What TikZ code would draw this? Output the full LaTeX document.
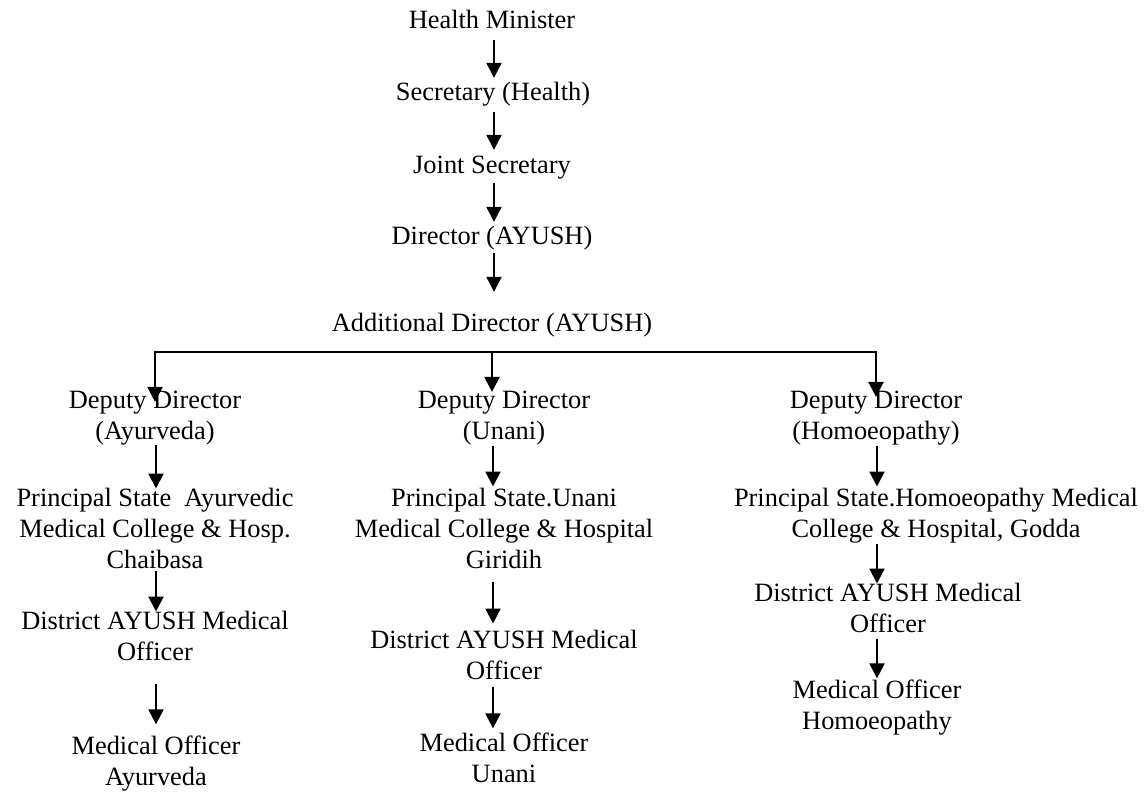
\documentclass[tikz,border=0pt]{standalone}
\usepackage{fontspec}
\setmainfont{Liberation Serif}
\usetikzlibrary{arrows.meta}
\begin{document}
\begin{tikzpicture}[x=1pt,y=-1pt,
  lbl/.style={align=center, inner sep=0pt, font=\fontsize{26.4}{31}\selectfont,
    execute at begin node=\strut, execute at end node=\strut},
  arr/.style={line width=2.2pt, -{Triangle[length=15pt,width=15pt]}},
  bus/.style={line width=2.2pt, line cap=rect}]
\useasboundingbox (0,0) rectangle (1146,796);
\fill[white] (0,0) rectangle (1146,796);

% top spine
\node[lbl] (hm)  at (492,21.8)  {Health Minister};
\node[lbl] (sec) at (493,93.8)  {Secretary (Health)};
\node[lbl] (js)  at (492,166.8) {Joint Secretary};
\node[lbl] (dir) at (492,237.8) {Director (AYUSH)};
\node[lbl] (ad)  at (492,324.8) {Additional Director (AYUSH)};

% deputy directors
\node[lbl] (add) at (155,420.3) {Deputy Director\\(Ayurveda)};
\node[lbl] (udd) at (504,420.3) {Deputy Director\\(Unani)};
\node[lbl] (hdd) at (876,420.3) {Deputy Director\\(Homoeopathy)};

% principals
\node[lbl] (ap) at (155,532.8) {Principal State\ \ Ayurvedic\\Medical College \& Hosp.\\Chaibasa};
\node[lbl] (up) at (504,532.8) {Principal State.Unani\\Medical College \& Hospital\\Giridih};
\node[lbl] (hp) at (936,517.3) {Principal State.Homoeopathy Medical\\College \& Hospital, Godda};

% district officers
\node[lbl] (adm) at (155,640.3) {District AYUSH Medical\\Officer};
\node[lbl] (udm) at (504,659.3) {District AYUSH Medical\\Officer};
\node[lbl] (hdm) at (888,612.3) {District AYUSH Medical\\Officer};

% medical officers
\node[lbl] (amo) at (156,765.3) {Medical Officer\\Ayurveda};
\node[lbl] (umo) at (504,762.3) {Medical Officer\\Unani};
\node[lbl] (hmo) at (877,709.3) {Medical Officer\\Homoeopathy};

% column references
\coordinate (colT) at (494,0);
\coordinate (colA) at (156,0);
\coordinate (colU) at (493,0);
\coordinate (colH) at (877,0);
\coordinate (busL) at (155,352);
\coordinate (busM) at (492,352);
\coordinate (busR) at (876,352);

% top arrows
\draw[arr, shorten <=2.7pt, shorten >=0.3pt] (hm.south -| colT) -- (sec.north -| colT);
\draw[arr, shorten <=2.7pt, shorten >=1.3pt] (sec.south -| colT) -- (js.north -| colT);
\draw[arr, shorten <=0.7pt, shorten >=0.3pt] (js.south -| colT) -- (dir.north -| colT);
\draw[arr, shorten <=-0.3pt, shorten >=17.3pt] (dir.south -| colT) -- (ad.north -| colT);

% branch bus
\draw[bus] (busL) -- (busR);
\draw[arr, shorten >=-10.7pt] (busL) -- (busL |- add.north);
\draw[arr, shorten >=-0.7pt] (busM) -- (busM |- udd.north);
\draw[arr, shorten >=-5.7pt] (busR) -- (busR |- hdd.north);

% Ayurveda column
\draw[arr, shorten <=-4.3pt, shorten >=-0.7pt] (add.south -| colA) -- (ap.north -| colA);
\draw[arr, shorten <=-7.3pt, shorten >=-0.7pt] (ap.south -| colA) -- (adm.north -| colA);
\draw[arr, shorten <=13.7pt, shorten >=11.3pt] (adm.south -| colA) -- (amo.north -| colA);

% Unani column
\draw[arr, shorten <=-3.3pt, shorten >=1.3pt] (udd.south -| colU) -- (up.north -| colU);
\draw[arr, shorten <=3.7pt, shorten >=6.3pt] (up.south -| colU) -- (udm.north -| colU);
\draw[arr, shorten <=-2.3pt, shorten >=4.3pt] (udm.south -| colU) -- (umo.north -| colU);

% Homoeopathy column
\draw[arr, shorten <=-3.3pt, shorten >=1.3pt] (hdd.south -| colH) -- (hp.north -| colH);
\draw[arr, shorten <=-3.3pt, shorten >=-0.7pt] (hp.south -| colH) -- (hdm.north -| colH);
\draw[arr, shorten <=-3.3pt, shorten >=1.3pt] (hdm.south -| colH) -- (hmo.north -| colH);
\end{tikzpicture}
\end{document}
